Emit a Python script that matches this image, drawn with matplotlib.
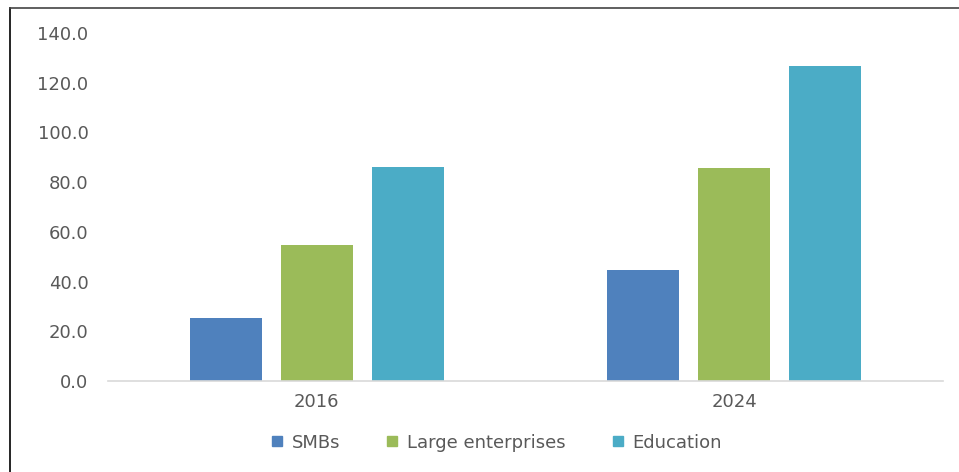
import numpy as np
import matplotlib.pyplot as plt
from matplotlib.lines import Line2D

years = ['2016', '2024']
series = ['SMBs', 'Large enterprises', 'Education']
smbs = [25.4, 44.6]
large = [54.8, 85.6]
education = [86.1, 126.6]
colors = ['#4F81BD', '#9BBB59', '#4BACC6']

plt.rcParams['font.family'] = ['DejaVu Sans']
text_color = '#595959'

fig = plt.figure(figsize=(9.59, 4.72), dpi=100)
ax = fig.add_axes([0.1126, 0.193, 0.8707, 0.737])

x = np.arange(len(years))
width = 0.172
step = 0.218
for i, vals in enumerate([smbs, large, education]):
    ax.bar(x + (i - 1) * step, vals, width, color=colors[i], label=series[i])

ax.set_xlim(-0.5, 1.5)
ax.set_ylim(0, 140)
ax.set_yticks(np.arange(0, 141, 20))
ax.set_yticklabels(['%.1f' % v for v in np.arange(0, 141, 20)])
ax.set_xticks(x)
ax.set_xticklabels(years)
ax.tick_params(axis='both', length=0, labelsize=13, colors=text_color)
ax.tick_params(axis='y', pad=14)
ax.tick_params(axis='x', pad=9)
for s in ['top', 'right', 'left']:
    ax.spines[s].set_visible(False)
ax.spines['bottom'].set_color('#D9D9D9')
ax.spines['bottom'].set_linewidth(1.2)

handles = [Line2D([], [], marker='s', linestyle='none', markersize=7,
                  color=c) for c in colors]
fig.legend(handles, series, loc='center', bbox_to_anchor=(0.516, 0.062),
           ncol=3, frameon=False, fontsize=13, labelcolor=text_color,
           handletextpad=0.3, columnspacing=2.4, handlelength=1.0)

# outer frame (left and top edges visible)
fig.add_artist(Line2D([10 / 959, 10 / 959], [0, 1 - 8 / 472], color='black', lw=1.2))
fig.add_artist(Line2D([10 / 959, 1], [1 - 8 / 472, 1 - 8 / 472], color='#444444', lw=1.2))

fig.savefig('out.png', dpi=100)
